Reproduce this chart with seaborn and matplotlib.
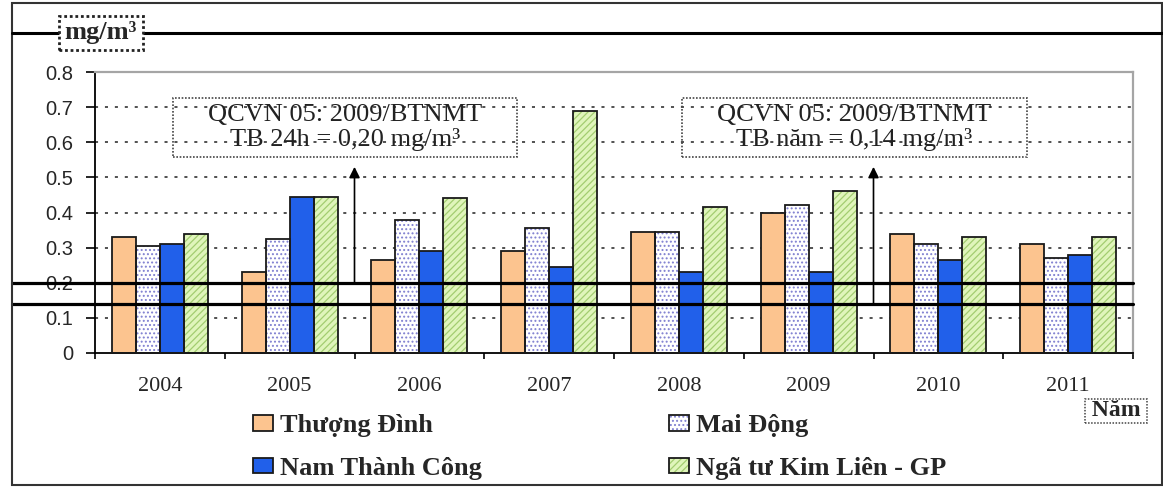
import pandas as pd
import seaborn as sns
import matplotlib
matplotlib.use("Agg")
import matplotlib.pyplot as plt
from matplotlib.patches import Patch, Rectangle
from matplotlib.lines import Line2D
from matplotlib import transforms

# Annual mean concentrations (mg/m3) at four Hanoi monitoring stations
years = ["2004", "2005", "2006", "2007", "2008", "2009", "2010", "2011"]
stations = ["Thượng Đình", "Mai Động", "Nam Thành Công", "Ngã tư Kim Liên - GP"]
thuong_dinh = [0.33, 0.23, 0.265, 0.29, 0.345, 0.40, 0.34, 0.31]
mai_dong = [0.305, 0.325, 0.38, 0.355, 0.345, 0.42, 0.31, 0.27]
nam_thanh_cong = [0.31, 0.445, 0.29, 0.245, 0.23, 0.23, 0.265, 0.28]
nga_tu_kim_lien = [0.34, 0.445, 0.44, 0.69, 0.415, 0.46, 0.33, 0.33]
yticks = [0, 0.1, 0.2, 0.3, 0.4, 0.5, 0.6, 0.7, 0.8]
ytick_labels = ["0", "0.1", "0.2", "0.3", "0.4", "0.5", "0.6", "0.7", "0.8"]
limit_24h = 0.20
limit_year = 0.14
note_24h = "QCVN 05: 2009/BTNMT\nTB 24h = 0,20 mg/m³"
note_year = "QCVN 05: 2009/BTNMT\nTB năm = 0,14 mg/m³"

series = [thuong_dinh, mai_dong, nam_thanh_cong, nga_tu_kim_lien]
df = pd.DataFrame({
    "Năm": [y for _ in stations for y in years],
    "Trạm": [s for s in stations for _ in years],
    "Nồng độ": [v for vals in series for v in vals],
})

# face colour, hatch pattern, hatch colour per station
styles = {
    "Thượng Đình": ("#fcc48f", "", "#fcc48f"),
    "Mai Động": ("#ffffff", "....", "#8080d0"),
    "Nam Thành Công": ("#2160ea", "", "#2160ea"),
    "Ngã tư Kim Liên - GP": ("#e0f5bb", "/////", "#a3cd70"),
}

sns.set_style("white")
plt.rcParams["font.family"] = ["Liberation Serif", "DejaVu Serif"]
plt.rcParams["hatch.linewidth"] = 0.9

W, H = 1163, 488
fig = plt.figure(figsize=(W / 100, H / 100), dpi=100)
ax = fig.add_axes([95 / W, (H - 353) / H, (1133 - 95) / W, (353 - 72) / H])

sns.barplot(data=df, x="Năm", y="Nồng độ", hue="Trạm", order=years,
            hue_order=stations, palette=[styles[s][0] for s in stations],
            width=0.74, saturation=1, legend=False, ax=ax, zorder=2)

for station, cont in zip(stations, ax.containers):
    fc, hatch, hc = styles[station]
    for bar in cont:
        bar.set_facecolor(fc)
        bar.set_hatch(hatch)
        bar.set_edgecolor(hc)
        bar.set_linewidth(0)
        ax.add_patch(Rectangle((bar.get_x(), bar.get_y()), bar.get_width(),
                               bar.get_height(), fill=False, ec="#1a1a1a",
                               lw=1.3, zorder=3))

ax.set_xlim(-0.5, len(years) - 0.5)
ax.set_ylim(yticks[0], yticks[-1])
ax.set_xlabel("")
ax.set_ylabel("")
ax.set_yticks(yticks)
ax.set_yticklabels(ytick_labels, family="Liberation Sans", fontsize=14.5)
ax.set_xticks(range(len(years)))
ax.set_xticklabels(years, fontsize=16)
ax.set_xticks([i - 0.5 for i in range(len(years) + 1)], minor=True)
ax.tick_params(axis="x", which="major", length=0, pad=17)
ax.tick_params(axis="x", which="minor", length=4.5, width=1.2, direction="out",
               color="black", bottom=True)
ax.tick_params(axis="y", length=6.5, width=1.2, direction="out", color="black",
               left=True, pad=9)

ax.set_axisbelow(True)
ax.yaxis.grid(True, color="#222222", lw=1.1, ls=(0, (2, 4.5)))
gl = ax.get_ygridlines()
gl[0].set_visible(False)
gl[-1].set_visible(False)

for side in ("top", "right"):
    ax.spines[side].set_color("#a5a5a5")
    ax.spines[side].set_linewidth(1.6)
for side in ("left", "bottom"):
    ax.spines[side].set_color("black")
    ax.spines[side].set_linewidth(1.3)

# regulation limits, drawn across from the outer frame edge
blend = transforms.blended_transform_factory(fig.transFigure, ax.transData)
for lim in (limit_24h, limit_year):
    ax.plot([12 / W, 1133 / W], [lim, lim], transform=blend, color="black",
            lw=2.3, clip_on=False, zorder=6)

# annotation boxes and arrows
for (x0, x1), text, lim, ax_x in (((173, 517), note_24h, limit_24h, 1.5),
                                  ((682, 1027), note_year, limit_year, 5.5)):
    fx0 = (x0 - 95) / (1133 - 95)
    fx1 = (x1 - 95) / (1133 - 95)
    fy0 = (353 - 157) / (353 - 72)
    fy1 = (353 - 98) / (353 - 72)
    ax.add_patch(Rectangle((fx0, fy0), fx1 - fx0, fy1 - fy0, transform=ax.transAxes,
                           fill=False, ec="#444444", ls=(0, (1, 1)), lw=1.2,
                           zorder=4, clip_on=False))
    ax.text((fx0 + fx1) / 2, (fy0 + fy1) / 2, text, transform=ax.transAxes,
            ha="center", va="center", fontsize=19, linespacing=1.08,
            color="#222222", zorder=5)
    tip = ax.transData.inverted().transform(ax.transAxes.transform((0, fy0 - 0.035)))[1]
    ax.annotate("", xy=(ax_x, tip), xytext=(ax_x, lim),
                arrowprops=dict(arrowstyle="-|>", color="black", lw=1.2,
                                mutation_scale=16, shrinkA=0, shrinkB=0),
                zorder=5)

# outer chart frame
fig.add_artist(Rectangle((12 / W, 3 / H), (1162 - 12) / W, (485 - 3) / H,
                         transform=fig.transFigure, fill=False, ec="#333333", lw=1.5))
fig.add_artist(Line2D([12 / W, 1162 / W], [(H - 33) / H] * 2,
                      transform=fig.transFigure, color="black", lw=2.2))

fig.text(101 / W, (H - 33) / H, "mg/m³", ha="center", va="center", fontsize=19,
         weight="bold",
         bbox=dict(boxstyle="square,pad=0.2", fc="white", ec="#222222",
                   ls=(0, (1, 1)), lw=2))

fig.text(1116 / W, (H - 411) / H, " Năm ", ha="center", va="center", fontsize=17,
         weight="bold",
         bbox=dict(boxstyle="square,pad=0.05", fc="white", ec="#444444",
                   ls=(0, (1, 1)), lw=1.1))

# legend: hatched swatch with a dark outline on top
handles = {}
for s in stations:
    fc, hatch, hc = styles[s]
    handles[s] = (Patch(fc=fc, hatch=hatch, ec=hc, lw=0),
                  Patch(fill=False, ec="#1a1a1a", lw=1.3))
order = ["Thượng Đình", "Nam Thành Công", "Mai Động", "Ngã tư Kim Liên - GP"]
fig.legend([handles[s] for s in order], order, loc="upper left",
           bbox_to_anchor=(253 / W, (H - 414) / H), ncol=2, frameon=False,
           prop=dict(family="Liberation Serif", weight="bold", size=19),
           handlelength=0.76, handleheight=0.55, handletextpad=0.25,
           columnspacing=7.1, labelspacing=0.75, borderpad=0, borderaxespad=0)

fig.savefig("out.png", dpi=100)
